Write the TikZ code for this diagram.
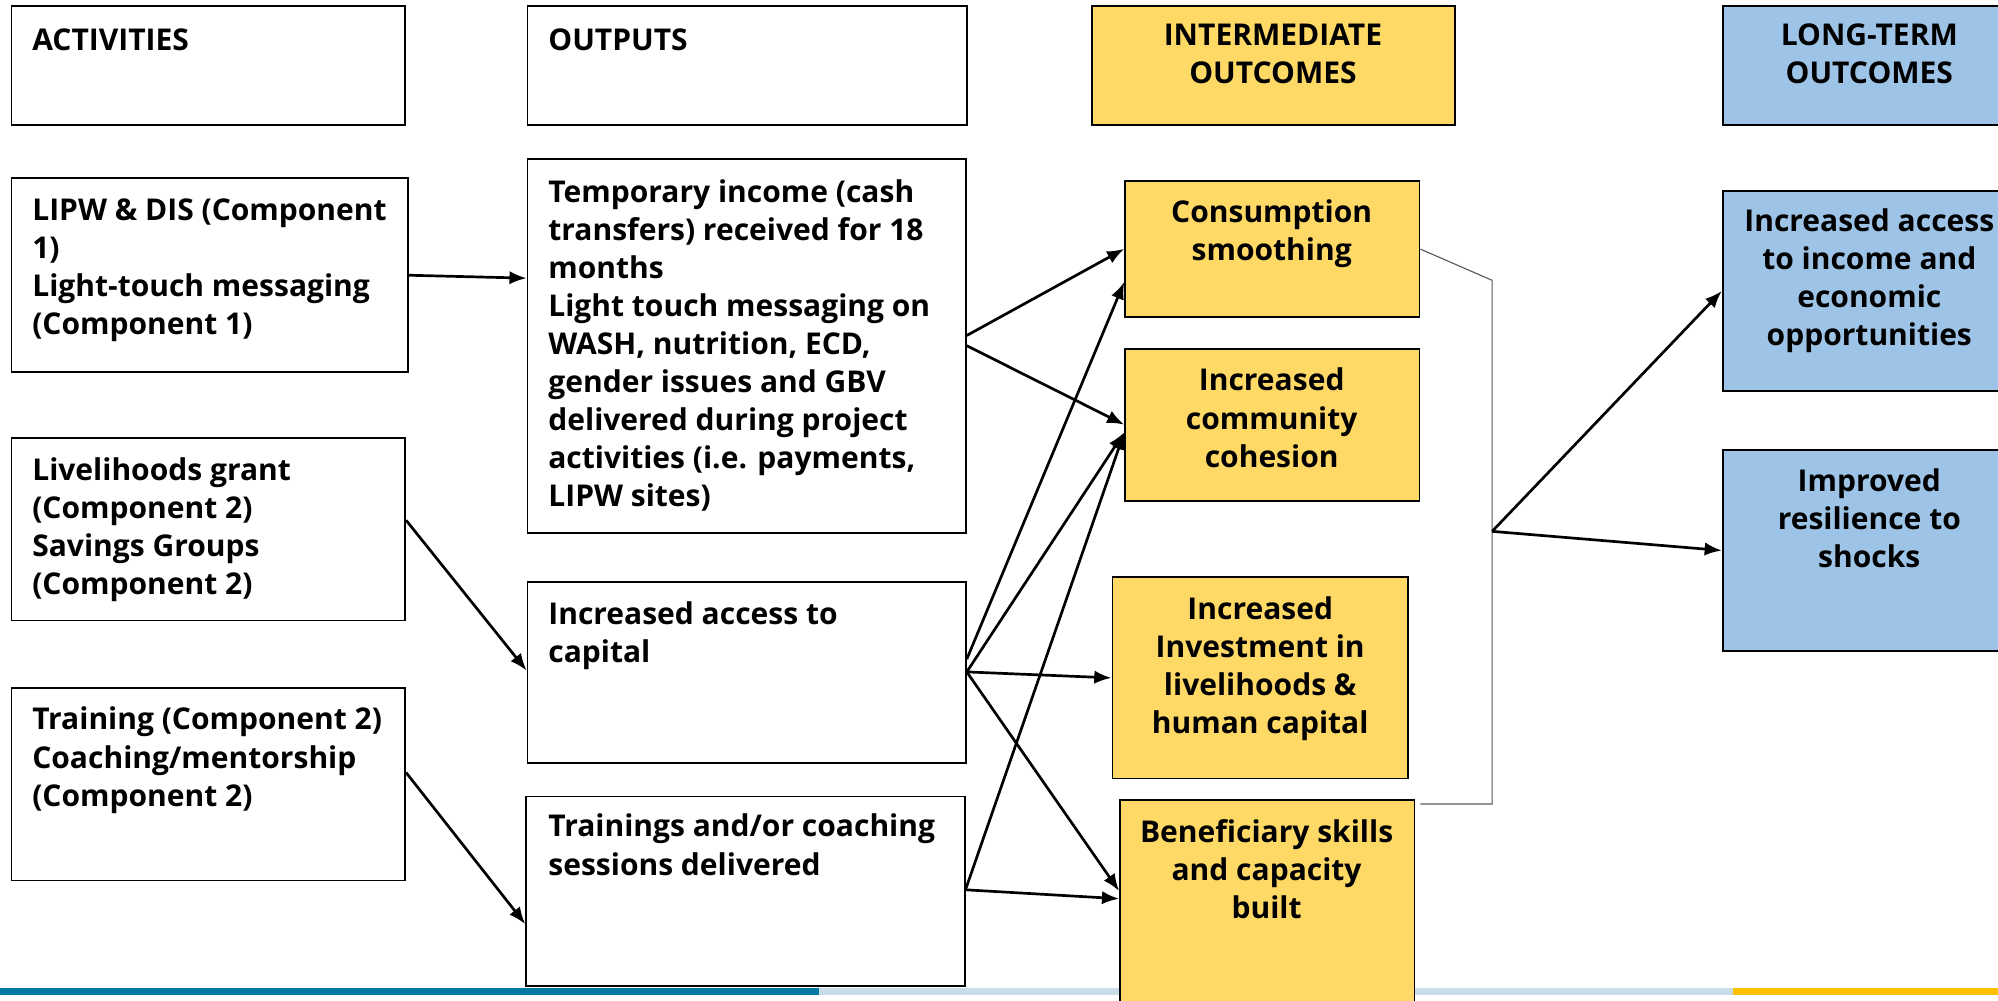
\documentclass[tikz,border=0pt]{standalone}
\usepackage{fontspec}
\setmainfont{Open Sans}
\usetikzlibrary{arrows.meta,calc,fit}
\definecolor{boxyellow}{RGB}{255,217,102}
\definecolor{boxblue}{RGB}{157,195,230}
\definecolor{bardark}{RGB}{0,122,163}
\definecolor{barlight}{RGB}{200,223,234}
\definecolor{baryellow}{RGB}{255,192,0}
\begin{document}
\begin{tikzpicture}[x=0.2mm,y=-0.2mm,>={Latex[length=2.7mm,width=2.1mm]},
  box/.style={draw, line width=0.8pt, inner sep=0pt, fill=white},
  ybox/.style={box, fill=boxyellow},
  bbox/.style={box, fill=boxblue},
  txt/.style={inner sep=0pt, font=\bfseries\fontsize{13.4}{17}\selectfont, execute at begin node=\strut},
  ltxt/.style={txt, anchor=north west, align=left},
  ctxt/.style={txt, anchor=north, align=center},
  arr/.style={->, line width=1.2pt}]
\useasboundingbox (0,0) rectangle (1568,785);

% bottom bar
\fill[bardark] (0,775) rectangle (643,781);
\fill[barlight] (643,775) rectangle (1360,781);
\fill[baryellow] (1360,775) rectangle (1568,781);

% headings
\node(act)[box, fit={(9,5) (318,98)}]{};
\node(out)[box, fit={(414,5) (759,98)}]{};
\node(inter)[ybox, fit={(857,5) (1142,98)}]{};
\node(long)[bbox, fit={(1352,5) (1582,98)}]{};
\node(acttxt)[ltxt] at (25,18.6){ACTIVITIES};
\node(outtxt)[ltxt] at (430,18.6){OUTPUTS};
\node(intertxt)[ctxt] at (999,18.6){INTERMEDIATE\\OUTCOMES};
\node(longtxt)[ctxt] at (1467,18.6){LONG-TERM\\OUTCOMES};

% activities
\node(lipw)[box, fit={(9,140) (320,292)}]{};
\node(liv)[box, fit={(9,344) (318,487)}]{};
\node(train)[box, fit={(9,540) (318,691)}]{};
\node(lipwtxt)[ltxt] at (25,155.6){LIPW \& DIS (Component\\1)\\Light-touch messaging\\(Component 1)};
\node(livtxt)[ltxt] at (25,358.6){Livelihoods grant\\(Component 2)\\Savings Groups\\(Component 2)};
\node(traintxt)[ltxt] at (25,554.6){Training (Component 2)\\Coaching/mentorship\\(Component 2)};

% outputs
\node(temp)[box, fit={(414,125) (758,418)}]{};
\node(cap)[box, fit={(414,457) (758,599)}]{};
\node(sess)[box, fit={(413,625) (757,774)}]{};
\node(temptxt)[ltxt] at (430,140.6){Temporary income (cash\\transfers) received for 18\\months\\Light touch messaging on\\WASH, nutrition, ECD,\\gender issues and GBV\\delivered during project\\activities (i.e. payments,\\LIPW sites)};
\node(captxt)[ltxt] at (430,471.6){Increased access to\\capital};
\node(sesstxt)[ltxt] at (430,638.6){Trainings and/or coaching\\sessions delivered};

% intermediate outcomes
\node(cons)[ybox, fit={(883,142) (1114,249)}]{};
\node(coh)[ybox, fit={(883,274) (1114,393)}]{};
\node(inv)[ybox, fit={(873,453) (1105,611)}]{};
\node(ben)[ybox, fit={(879,628) (1110,800)}]{};
\node(constxt)[ctxt] at (998,156.6){Consumption\\smoothing};
\node(cohtxt)[ctxt] at (998,288.6){Increased\\community\\cohesion};
\node(invtxt)[ctxt] at (989,467.6){Increased\\Investment in\\livelihoods \&\\human capital};
\node(bentxt)[ctxt] at (994,642.6){Beneficiary skills\\and capacity\\built};

% long-term outcomes
\node(inc)[bbox, fit={(1352,150) (1582,307)}]{};
\node(res)[bbox, fit={(1352,353) (1582,511)}]{};
\node(inctxt)[ctxt] at (1467,163.6){Increased access\\to income and\\economic\\opportunities};
\node(restxt)[ctxt] at (1467,367.6){Improved\\resilience to\\shocks};

% activities to outputs
\draw[arr] (lipw.east) -- ($(temp.north west)+(0,94)$);
\draw[arr] ($(liv.north east)+(0,65)$) -- ($(cap.north west)+(0,70)$);
\draw[arr] ($(train.north east)+(0,67)$) -- ($(sess.north west)+(0,101)$);

% outputs to intermediate outcomes
\draw[arr] ($(temp.north east)+(0,139)$) -- ($(cons.north west)+(0,54)$);
\draw[arr] ($(temp.north east)+(0,147)$) -- ($(coh.north west)+(0,60)$);
\draw[arr] ($(cap.north east)+(0,61)$) -- ($(cons.north west)+(0,80)$);
\draw[arr] ($(cap.north east)+(0,71)$) -- ($(coh.north west)+(0,66)$);
\draw[arr] ($(cap.north east)+(0,71)$) -- (inv.west);
\draw[arr] ($(cap.north east)+(0,71)$) -- ($(ben.north west)+(0,72)$);
\draw[arr] ($(sess.north east)+(0,74)$) -- ($(coh.north west)+(0,66)$);
\draw[arr] ($(sess.north east)+(0,74)$) -- ($(ben.north west)+(0,78)$);

% bracket and long-term arrows
\coordinate(brtop) at (1171,220);
\coordinate(brbot) at (1171,631);
\coordinate(hub) at (1171,417);
\draw[gray!70!black, line width=0.5pt] (cons.east) -- (brtop) -- (brbot) -- (brbot -| cons.east);
\draw[arr] (hub) -- ($(inc.north west)+(0,79)$);
\draw[arr] (hub) -- (res.west);
\end{tikzpicture}
\end{document}
